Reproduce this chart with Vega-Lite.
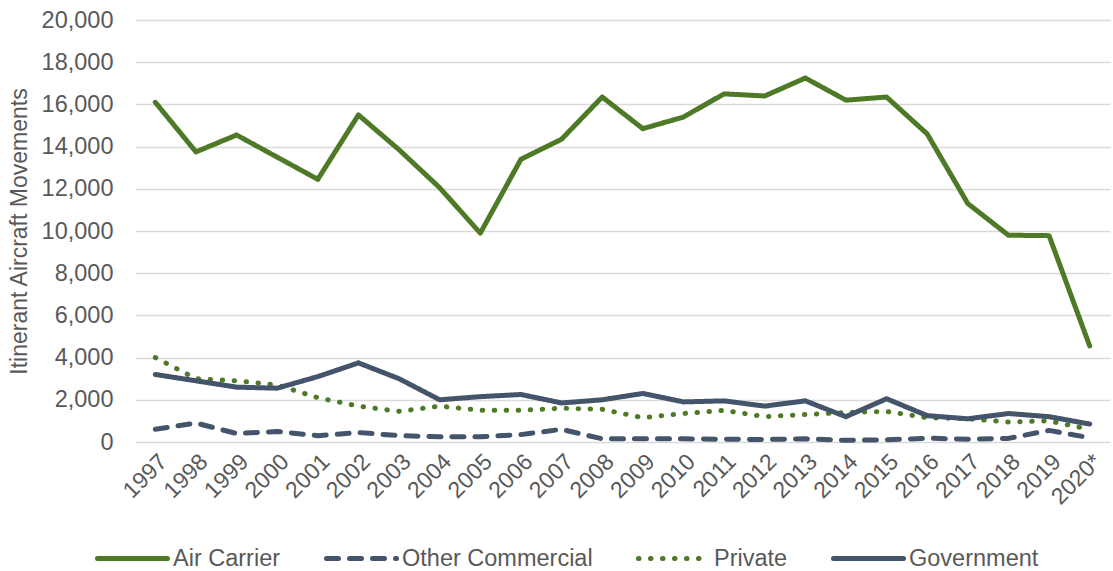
{
  "$schema": "https://vega.github.io/schema/vega-lite/v6.json",
  "width": 975,
  "height": 422,
  "autosize": {"type": "none"},
  "padding": {"left": 135, "top": 20, "right": 3, "bottom": 129},
  "background": "white",
  "config": {
    "font": "Liberation Sans",
    "view": {"stroke": null},
    "legend": {
      "orient": "none",
      "legendX": -40,
      "legendY": 501,
      "direction": "horizontal",
      "title": null,
      "symbolType": "stroke",
      "symbolSize": 4900,
      "symbolStrokeWidth": 5,
      "labelFontSize": 23.5,
      "labelColor": "#595959",
      "labelOffset": 3,
      "labelLimit": 400,
      "columnPadding": 35
    }
  },
  "data": {
    "values": [
      {"year": "1997", "series": "Air Carrier", "value": 16100},
      {"year": "1998", "series": "Air Carrier", "value": 13750},
      {"year": "1999", "series": "Air Carrier", "value": 14550},
      {"year": "2000", "series": "Air Carrier", "value": 13500},
      {"year": "2001", "series": "Air Carrier", "value": 12450},
      {"year": "2002", "series": "Air Carrier", "value": 15500},
      {"year": "2003", "series": "Air Carrier", "value": 13850},
      {"year": "2004", "series": "Air Carrier", "value": 12050},
      {"year": "2005", "series": "Air Carrier", "value": 9900},
      {"year": "2006", "series": "Air Carrier", "value": 13400},
      {"year": "2007", "series": "Air Carrier", "value": 14350},
      {"year": "2008", "series": "Air Carrier", "value": 16350},
      {"year": "2009", "series": "Air Carrier", "value": 14850},
      {"year": "2010", "series": "Air Carrier", "value": 15400},
      {"year": "2011", "series": "Air Carrier", "value": 16500},
      {"year": "2012", "series": "Air Carrier", "value": 16400},
      {"year": "2013", "series": "Air Carrier", "value": 17250},
      {"year": "2014", "series": "Air Carrier", "value": 16200},
      {"year": "2015", "series": "Air Carrier", "value": 16350},
      {"year": "2016", "series": "Air Carrier", "value": 14600},
      {"year": "2017", "series": "Air Carrier", "value": 11300},
      {"year": "2018", "series": "Air Carrier", "value": 9800},
      {"year": "2019", "series": "Air Carrier", "value": 9780},
      {"year": "2020*", "series": "Air Carrier", "value": 4550},
      {"year": "1997", "series": "Other Commercial", "value": 600},
      {"year": "1998", "series": "Other Commercial", "value": 900},
      {"year": "1999", "series": "Other Commercial", "value": 400},
      {"year": "2000", "series": "Other Commercial", "value": 500},
      {"year": "2001", "series": "Other Commercial", "value": 300},
      {"year": "2002", "series": "Other Commercial", "value": 450},
      {"year": "2003", "series": "Other Commercial", "value": 300},
      {"year": "2004", "series": "Other Commercial", "value": 250},
      {"year": "2005", "series": "Other Commercial", "value": 250},
      {"year": "2006", "series": "Other Commercial", "value": 350},
      {"year": "2007", "series": "Other Commercial", "value": 600},
      {"year": "2008", "series": "Other Commercial", "value": 150},
      {"year": "2009", "series": "Other Commercial", "value": 150},
      {"year": "2010", "series": "Other Commercial", "value": 150},
      {"year": "2011", "series": "Other Commercial", "value": 130},
      {"year": "2012", "series": "Other Commercial", "value": 120},
      {"year": "2013", "series": "Other Commercial", "value": 150},
      {"year": "2014", "series": "Other Commercial", "value": 80},
      {"year": "2015", "series": "Other Commercial", "value": 100},
      {"year": "2016", "series": "Other Commercial", "value": 180},
      {"year": "2017", "series": "Other Commercial", "value": 130},
      {"year": "2018", "series": "Other Commercial", "value": 170},
      {"year": "2019", "series": "Other Commercial", "value": 550},
      {"year": "2020*", "series": "Other Commercial", "value": 200},
      {"year": "1997", "series": "Private", "value": 4000},
      {"year": "1998", "series": "Private", "value": 3000},
      {"year": "1999", "series": "Private", "value": 2900},
      {"year": "2000", "series": "Private", "value": 2700},
      {"year": "2001", "series": "Private", "value": 2100},
      {"year": "2002", "series": "Private", "value": 1700},
      {"year": "2003", "series": "Private", "value": 1450},
      {"year": "2004", "series": "Private", "value": 1700},
      {"year": "2005", "series": "Private", "value": 1500},
      {"year": "2006", "series": "Private", "value": 1500},
      {"year": "2007", "series": "Private", "value": 1600},
      {"year": "2008", "series": "Private", "value": 1550},
      {"year": "2009", "series": "Private", "value": 1150},
      {"year": "2010", "series": "Private", "value": 1350},
      {"year": "2011", "series": "Private", "value": 1500},
      {"year": "2012", "series": "Private", "value": 1200},
      {"year": "2013", "series": "Private", "value": 1300},
      {"year": "2014", "series": "Private", "value": 1400},
      {"year": "2015", "series": "Private", "value": 1450},
      {"year": "2016", "series": "Private", "value": 1150},
      {"year": "2017", "series": "Private", "value": 1100},
      {"year": "2018", "series": "Private", "value": 950},
      {"year": "2019", "series": "Private", "value": 1000},
      {"year": "2020*", "series": "Private", "value": 600},
      {"year": "1997", "series": "Government", "value": 3200},
      {"year": "1998", "series": "Government", "value": 2900},
      {"year": "1999", "series": "Government", "value": 2600},
      {"year": "2000", "series": "Government", "value": 2550},
      {"year": "2001", "series": "Government", "value": 3100},
      {"year": "2002", "series": "Government", "value": 3750},
      {"year": "2003", "series": "Government", "value": 3000},
      {"year": "2004", "series": "Government", "value": 2000},
      {"year": "2005", "series": "Government", "value": 2150},
      {"year": "2006", "series": "Government", "value": 2250},
      {"year": "2007", "series": "Government", "value": 1850},
      {"year": "2008", "series": "Government", "value": 2000},
      {"year": "2009", "series": "Government", "value": 2300},
      {"year": "2010", "series": "Government", "value": 1900},
      {"year": "2011", "series": "Government", "value": 1950},
      {"year": "2012", "series": "Government", "value": 1700},
      {"year": "2013", "series": "Government", "value": 1950},
      {"year": "2014", "series": "Government", "value": 1200},
      {"year": "2015", "series": "Government", "value": 2050},
      {"year": "2016", "series": "Government", "value": 1250},
      {"year": "2017", "series": "Government", "value": 1100},
      {"year": "2018", "series": "Government", "value": 1350},
      {"year": "2019", "series": "Government", "value": 1200},
      {"year": "2020*", "series": "Government", "value": 850}
    ]
  },
  "mark": {"type": "line", "strokeWidth": 5, "strokeCap": "round", "strokeJoin": "round"},
  "encoding": {
    "x": {
      "field": "year",
      "type": "ordinal",
      "sort": null,
      "scale": {"type": "point", "padding": 0.5},
      "axis": {
        "title": null,
        "labelAngle": -45,
        "labelFontSize": 23,
        "labelColor": "#595959",
        "ticks": false,
        "domain": false,
        "grid": false,
        "labelPadding": 8
      }
    },
    "y": {
      "field": "value",
      "type": "quantitative",
      "scale": {"domain": [0, 20000]},
      "axis": {
        "values": [0, 2000, 4000, 6000, 8000, 10000, 12000, 14000, 16000, 18000, 20000],
        "format": ",d",
        "title": "Itinerant Aircraft Movements",
        "titleFontSize": 23,
        "titleFontWeight": "normal",
        "titleColor": "#595959",
        "titlePadding": 10,
        "labelFontSize": 23.5,
        "labelColor": "#595959",
        "labelPadding": 22,
        "ticks": false,
        "domain": false,
        "gridColor": "#d9d9d9",
        "gridWidth": 1.5
      }
    },
    "color": {
      "field": "series",
      "type": "nominal",
      "scale": {
        "domain": ["Air Carrier", "Other Commercial", "Private", "Government"],
        "range": ["#4E7A27", "#44546A", "#4E7A27", "#44546A"]
      },
      "legend": {"encode": {"symbols": {"update": {"strokeCap": {"value": "round"}}}}}
    },
    "strokeDash": {
      "field": "series",
      "type": "nominal",
      "scale": {
        "domain": ["Air Carrier", "Other Commercial", "Private", "Government"],
        "range": [[1, 0], [12, 11], [0.5, 11.5], [1, 0]]
      },
      "legend": {"encode": {"symbols": {"update": {"strokeCap": {"value": "round"}}}}}
    }
  }
}
